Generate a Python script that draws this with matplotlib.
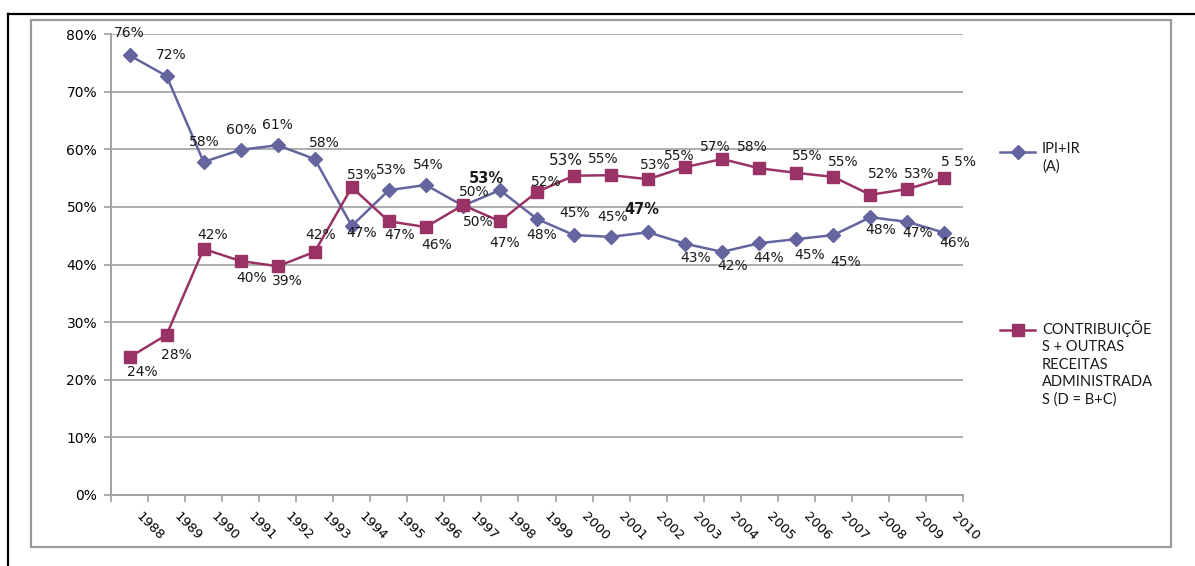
import numpy as np
import matplotlib.pyplot as plt
import matplotlib.transforms as mtransforms
from matplotlib.lines import Line2D

# data (shares, %)
years = [str(y) for y in range(1988, 2011)]
ipi_ir = [76.3, 72.7, 57.8, 59.9, 60.7, 58.3, 46.7, 52.9, 53.8, 50.2, 52.9, 47.9,
          45.1, 44.8, 45.6, 43.6, 42.2, 43.7, 44.4, 45.1, 48.2, 47.4, 45.5]
contrib = [23.9, 27.8, 42.7, 40.6, 39.7, 42.2, 53.4, 47.5, 46.5, 50.3, 47.5, 52.6,
           55.4, 55.5, 54.8, 56.9, 58.3, 56.7, 55.9, 55.2, 52.1, 53.1, 55.0]
ipi_lbl = ['76%', '72%', '58%', '60%', '61%', '58%', '47%', '53%', '54%', '50%', '53%', '48%',
           '45%', '45%', '47%', '43%', '42%', '44%', '45%', '45%', '48%', '47%', '46%']
contrib_lbl = ['24%', '28%', '42%', '40%', '39%', '42%', '53%', '47%', '46%', '50%', '47%', '52%',
               '53%', '55%', '53%', '55%', '57%', '58%', '55%', '55%', '52%', '53%', '5 5%']
y_ticks = [0, 10, 20, 30, 40, 50, 60, 70, 80]
names = ['IPI+IR\n(A)', 'CONTRIBUIÇÕE\nS + OUTRAS\nRECEITAS\nADMINISTRADA\nS (D = B+C)']

# label placement (pixel offsets from the point, y up), as Excel left them
ipi_off = [(0, 22), (5, 21), (1, 20), (1, 20), (0, 20), (10, 16), (10, -7), (2, 20), (2, 20),
           (11, 14), (-14, 12), (5, -16), (1, 22), (2, 20), (-6, 23), (10, -14), (10, -14),
           (9, -15), (13, -16), (12, -27), (10, -13), (10, -11), (10, -10)]
contrib_off = [(13, -15), (10, -20), (9, 14), (11, -17), (10, -15), (6, 17), (10, 12), (11, -14),
               (11, -18), (15, -17), (5, -22), (9, 10), (-8, 15), (-8, 16), (7, 14), (-6, 11),
               (-7, 12), (-7, 21), (11, 17), (10, 15), (13, 21), (12, 15), (14, 16)]
ipi_bold = {10, 14}

C_IPI = '#64649e'
C_CON = '#993366'
GRID = '#a0a0a0'
W, H = 1195, 566

fig = plt.figure(figsize=(W / 100, H / 100), dpi=100)
plt.rcParams['font.family'] = ['DejaVu Sans']

# page frame lines
fig.add_artist(Line2D([8 / W, 1.0], [1 - 14 / H, 1 - 14 / H], color='black', lw=1.6))
fig.add_artist(Line2D([8 / W, 8 / W], [0, 1 - 14 / H], color='black', lw=1.6))
fig.add_artist(plt.Rectangle((31 / W, 1 - 547 / H), 1140 / W, 527 / H, fill=False,
                             ec='#9a9a9a', lw=1.6))

ax = fig.add_axes([111 / W, 1 - 495 / H, 852 / W, 461 / H])
x = np.arange(len(years))
ax.plot(x, ipi_ir, color=C_IPI, lw=1.8, marker='D', ms=7.5, zorder=3)
ax.plot(x, contrib, color=C_CON, lw=1.8, marker='s', ms=8.5, zorder=3)

for i in range(len(years)):
    ax.annotate(ipi_lbl[i], (x[i], ipi_ir[i]), xytext=ipi_off[i], textcoords='offset pixels',
                ha='center', va='center', fontsize=10 if i not in ipi_bold else 10.5,
                fontweight='bold' if i in ipi_bold else 'normal', color='#1a1a1a', zorder=4)
    ax.annotate(contrib_lbl[i], (x[i], contrib[i]), xytext=contrib_off[i],
                textcoords='offset pixels', ha='center', va='center',
                fontsize=11 if i == 12 else 10, color='#1a1a1a', zorder=4)

ax.set_xlim(-0.5, len(years) - 0.5)
ax.set_ylim(0, 80)
ax.set_yticks(y_ticks)
ax.set_yticklabels([f'{v}%' for v in y_ticks], fontsize=10)
ax.yaxis.grid(True, color=GRID, lw=1.2)
ax.set_axisbelow(True)

ax.set_xticks(x)
ax.set_xticklabels(years, rotation=-45, rotation_mode='anchor', ha='left', va='center',
                   fontsize=9.5, family=['Liberation Sans Narrow', 'DejaVu Sans'])
ax.set_xticks(np.arange(len(years) + 1) - 0.5, minor=True)
ax.tick_params(axis='x', which='major', length=0, pad=0)
ax.tick_params(axis='x', which='minor', length=5, color=GRID, width=1.2)
ax.tick_params(axis='y', length=5, color=GRID, width=1.2, pad=5)
shift = mtransforms.ScaledTranslation(9 / 100, -20 / 100, fig.dpi_scale_trans)
for t in ax.get_xticklabels():
    t.set_transform(t.get_transform() + shift)

for s in ['top', 'right']:
    ax.spines[s].set_visible(False)
for s in ['left', 'bottom']:
    ax.spines[s].set_color(GRID)
    ax.spines[s].set_linewidth(1.4)

# legend, drawn like the spread-out Excel legend
for ypix, color, mk, ms, name in [(152, C_IPI, 'D', 7.5, names[0]),
                                  (330, C_CON, 's', 8.5, names[1])]:
    yf = 1 - ypix / H
    fig.add_artist(Line2D([1000 / W, 1035 / W], [yf, yf], color=color, lw=1.8))
    fig.add_artist(Line2D([1017.5 / W], [yf], color=color, marker=mk, ms=ms))
    fig.text(1042 / W, yf + 10 / H, name, ha='left', va='top', fontsize=10.5,
             family=['Lato', 'DejaVu Sans'], color='#1a1a1a', linespacing=1.3)

fig.savefig('out.png', dpi=100)
